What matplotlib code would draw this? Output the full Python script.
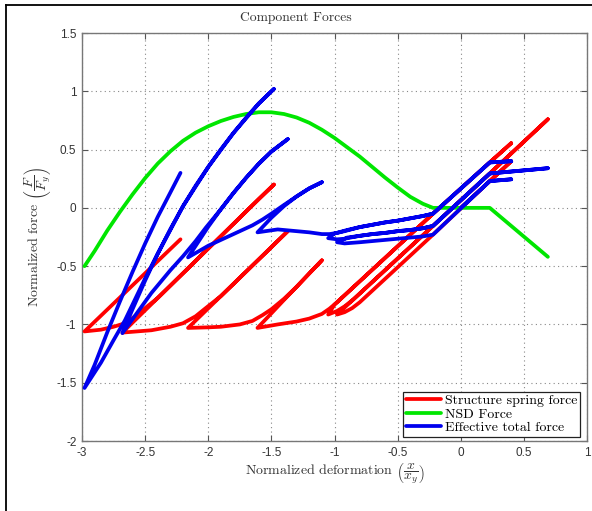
import matplotlib
matplotlib.use("Agg")
import matplotlib.pyplot as plt
from matplotlib.lines import Line2D

plt.rcParams['mathtext.fontset'] = 'cm'

# ---- data ----
# displacement path (normalized deformation), in time order
deform = [0.00, 0.23, 0.40, 0.23, -0.22, -0.30, -0.40, -0.50, -0.60, -0.70, -0.80, -0.86, -0.92, -0.98,
          -0.90, -0.80, -0.70, -0.60, -0.50, -0.40, -0.30, -0.22, 0.23, 0.69,
          0.23, -0.22, -0.30, -0.40, -0.50, -0.60, -0.70, -0.80, -0.85, -0.92, -0.98, -1.05,
          -1.00, -0.90, -0.80, -0.70, -0.60, -0.50, -0.40, -0.30, -0.22, 0.23, 0.40,
          0.23, -0.22, -0.30, -0.40, -0.50, -0.60, -0.70, -0.80, -0.92, -0.98, -1.04, -1.10, -1.20, -1.30, -1.45, -1.61,
          -1.50, -1.40, -1.30, -1.20, -1.10,
          -1.20, -1.30, -1.40, -1.50, -1.57, -1.65, -1.75, -1.90, -2.00, -2.16,
          -2.00, -1.90, -1.80, -1.70, -1.60, -1.50, -1.37,
          -1.50, -1.60, -1.70, -1.80, -1.90, -2.02, -2.10, -2.20, -2.30, -2.45, -2.68,
          -2.60, -2.50, -2.40, -2.30, -2.20, -2.10, -2.00, -1.90, -1.80, -1.70, -1.60, -1.48,
          -1.60, -1.80, -2.00, -2.20, -2.40, -2.50, -2.58, -2.66, -2.75, -2.85, -2.98,
          -2.90, -2.80, -2.70, -2.60, -2.50, -2.40, -2.30, -2.22]

spring_force = [0.00, 0.23, 0.40, 0.23, -0.23, -0.31, -0.41, -0.51, -0.61, -0.71, -0.81, -0.86, -0.895, -0.915,
                -0.835, -0.735, -0.635, -0.535, -0.435, -0.335, -0.235, -0.155, 0.295, 0.76,
                0.295, -0.155, -0.235, -0.335, -0.435, -0.535, -0.635, -0.735, -0.785, -0.845, -0.885, -0.915,
                -0.83, -0.73, -0.63, -0.53, -0.43, -0.33, -0.23, -0.13, -0.05, 0.39, 0.555,
                0.39, -0.05, -0.13, -0.23, -0.33, -0.43, -0.53, -0.63, -0.75, -0.81, -0.865, -0.91, -0.95, -0.975, -1.00, -1.03,
                -0.905, -0.79, -0.677, -0.563, -0.45,
                -0.563, -0.677, -0.78, -0.87, -0.92, -0.97, -1.00, -1.02, -1.025, -1.03,
                -0.862, -0.757, -0.652, -0.547, -0.442, -0.337, -0.20,
                -0.337, -0.442, -0.547, -0.652, -0.757, -0.86, -0.93, -0.99, -1.02, -1.05, -1.07,
                -0.985, -0.879, -0.773, -0.667, -0.561, -0.455, -0.349, -0.243, -0.137, -0.031, 0.075, 0.20,
                0.075, -0.137, -0.349, -0.561, -0.773, -0.86, -0.93, -0.99, -1.02, -1.045, -1.06,
                -0.977, -0.873, -0.769, -0.665, -0.561, -0.457, -0.353, -0.27]

total_force = [0.00, 0.23, 0.245, 0.23, -0.23, -0.245, -0.255, -0.265, -0.275, -0.285, -0.295, -0.30, -0.305, -0.295,
               -0.255, -0.24, -0.225, -0.215, -0.20, -0.19, -0.175, -0.155, 0.295, 0.34,
               0.295, -0.155, -0.175, -0.19, -0.20, -0.215, -0.225, -0.24, -0.25, -0.265, -0.27, -0.26,
               -0.22, -0.19, -0.165, -0.145, -0.125, -0.11, -0.09, -0.07, -0.05, 0.39, 0.40,
               0.39, -0.05, -0.07, -0.09, -0.11, -0.125, -0.145, -0.165, -0.20, -0.215, -0.225, -0.225, -0.21, -0.20, -0.185, -0.21,
               -0.085, 0.015, 0.098, 0.167, 0.22,
               0.167, 0.098, 0.025, -0.05, -0.10, -0.15, -0.20, -0.275, -0.325, -0.425,
               -0.162, -0.012, 0.128, 0.258, 0.378, 0.483, 0.59,
               0.483, 0.378, 0.258, 0.128, -0.012, -0.171, -0.285, -0.415, -0.535, -0.73, -1.075,
               -0.87, -0.624, -0.393, -0.182, 0.014, 0.19, 0.351, 0.502, 0.643, 0.774, 0.895, 1.02,
               0.895, 0.643, 0.351, 0.014, -0.393, -0.605, -0.785, -0.965, -1.135, -1.328, -1.545,
               -1.347, -1.068, -0.804, -0.55, -0.306, -0.077, 0.132, 0.30]

nsd_x = [-2.98, -2.9, -2.8, -2.7, -2.6, -2.5, -2.4, -2.3, -2.2, -2.1, -2.0, -1.9, -1.8, -1.7, -1.6,
         -1.5, -1.4, -1.3, -1.2, -1.1, -1.0, -0.9, -0.8, -0.7, -0.6, -0.5, -0.4, -0.3, -0.22, 0.23, 0.69]
nsd_force = [-0.50, -0.37, -0.195, -0.035, 0.115, 0.255, 0.38, 0.485, 0.575, 0.645, 0.70, 0.745, 0.78,
             0.805, 0.82, 0.82, 0.805, 0.775, 0.73, 0.67, 0.60, 0.52, 0.44, 0.35, 0.26, 0.175, 0.095,
             0.035, 0.0, 0.0, -0.42]

x_ticks = [-3, -2.5, -2, -1.5, -1, -0.5, 0, 0.5, 1]
x_tick_labels = ['-3', '-2.5', '-2', '-1.5', '-1', '-0.5', '0', '0.5', '1']
y_ticks = [-2, -1.5, -1, -0.5, 0, 0.5, 1, 1.5]
y_tick_labels = ['-2', '-1.5', '-1', '-0.5', '0', '0.5', '1', '1.5']

series_labels = ['Structure spring force', 'NSD Force', 'Effective total force']

# ---- figure ----
W, H = 592, 511
fig = plt.figure(figsize=(W / 100, H / 100), dpi=100)
fig.patch.set_facecolor('white')

# outer frame lines (left and top)
fig.add_artist(Line2D([6 / W, 6 / W], [0, 1 - 5 / H], transform=fig.transFigure, color='black', lw=1.3))
fig.add_artist(Line2D([6 / W, 1], [1 - 5 / H, 1 - 5 / H], transform=fig.transFigure, color='black', lw=1.3))

ax = fig.add_axes([82 / W, 1 - 441 / H, (587 - 82) / W, (441 - 33) / H])

lw = 2.7
ax.plot(deform, spring_force, color='#ff0000', lw=lw, solid_capstyle='round', solid_joinstyle='round',
        label=series_labels[0], zorder=3)
ax.plot(nsd_x, nsd_force, color='#00e600', lw=lw, solid_capstyle='round', solid_joinstyle='round',
        label=series_labels[1], zorder=3)
ax.plot(deform, total_force, color='#0000ee', lw=lw, solid_capstyle='round', solid_joinstyle='round',
        label=series_labels[2], zorder=4)

ax.set_xlim(-3, 1)
ax.set_ylim(-2, 1.5)
ax.set_xticks(x_ticks)
ax.set_xticklabels(x_tick_labels, fontfamily='Liberation Sans', fontsize=8.5, color='#333333')
ax.set_yticks(y_ticks)
ax.set_yticklabels(y_tick_labels, fontfamily='Liberation Sans', fontsize=8.5, color='#333333')
ax.tick_params(direction='in', length=4, width=0.8, color='#555555', top=True, right=True, pad=4)
ax.grid(True, color='#888888', linestyle=(0, (1, 3)), lw=0.8)
for s in ax.spines.values():
    s.set_color('#777777')
    s.set_linewidth(1.0)

fig.text(295.5 / W, 1 - 18 / H, 'Component Forces', fontfamily='cmr10', fontsize=9.8, color='#333333',
         ha='center', va='center')
ax.set_xlabel(r'Normalized deformation $\left(\dfrac{x}{x_y}\right)$', fontfamily='cmr10', fontsize=10,
              color='#333333', labelpad=2)
ax.set_ylabel(r'Normalized force $\left(\dfrac{F}{F_y}\right)$', fontfamily='cmr10', fontsize=10,
              color='#333333', labelpad=2)

leg = ax.legend(loc='lower right', bbox_to_anchor=(0.986, 0.01), borderaxespad=0,
                prop={'family': 'cmr10', 'size': 10}, fancybox=False, framealpha=1,
                edgecolor='#222222', handlelength=2.5, handletextpad=0.3, labelspacing=0.05,
                borderpad=0.2)
leg.get_frame().set_linewidth(0.9)

fig.savefig('out.png', dpi=100)
